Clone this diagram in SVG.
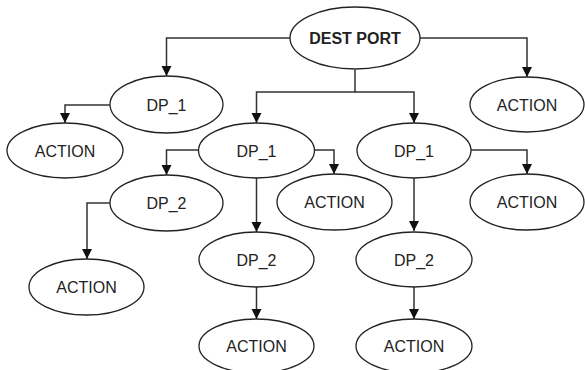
<svg xmlns="http://www.w3.org/2000/svg" width="585" height="370" viewBox="0 0 585 370">
<defs>
<style>
.n ellipse{fill:#fff;stroke:#222;stroke-width:1.3}
.n text{font-family:"Liberation Sans",Arial,sans-serif;font-size:16px;fill:#222;text-anchor:middle}
.b{font-weight:bold}
.c path{fill:none;stroke:#333;stroke-width:1.5;marker-end:url(#ah)}
</style>
<marker id="ah" markerUnits="userSpaceOnUse" markerWidth="12" markerHeight="12" refX="10" refY="5" orient="auto">
<path d="M0,0 L10,5 L0,10 Z" fill="#111"/>
</marker>
</defs>
<rect width="585" height="370" fill="#fff"/>
<g class="c" id="connectors">
<path d="M290,38 H166.5 V76"/>
<path d="M420,38 H527 V77"/>
<path d="M355,70 V92 H256.5 V123"/>
<path d="M355,92 H414 V123"/>
<path d="M110,105 H65 V123"/>
<path d="M198,150 H166.5 V175"/>
<path d="M314,150 H334 V174"/>
<path d="M256.5,178 V232"/>
<path d="M471,150 H527 V174"/>
<path d="M414,178 V231"/>
<path d="M110,203 H87 V259"/>
<path d="M256.5,287 V319"/>
<path d="M414,287 V319"/>
</g>
<g class="n" id="dest-port"><ellipse cx="355" cy="38" rx="65" ry="31"/><text class="b" x="355" y="44">DEST PORT</text></g>
<g class="n" id="dp1-left"><ellipse cx="166.5" cy="104.5" rx="56.5" ry="28.5"/><text x="166.5" y="110.5">DP_1</text></g>
<g class="n" id="action-top-right"><ellipse cx="527" cy="104.5" rx="57" ry="27.5"/><text x="527" y="110.5">ACTION</text></g>
<g class="n" id="action-left"><ellipse cx="65" cy="150.5" rx="58" ry="27.5"/><text x="65" y="156.5">ACTION</text></g>
<g class="n" id="dp1-mid"><ellipse cx="256.5" cy="150.5" rx="58" ry="27.5"/><text x="256.5" y="156.5">DP_1</text></g>
<g class="n" id="dp1-right"><ellipse cx="414" cy="150.5" rx="57" ry="27.5"/><text x="414" y="156.5">DP_1</text></g>
<g class="n" id="dp2-left"><ellipse cx="166.5" cy="203" rx="56.5" ry="28"/><text x="166.5" y="209">DP_2</text></g>
<g class="n" id="action-mid"><ellipse cx="334.5" cy="202" rx="57.5" ry="28"/><text x="334.5" y="208">ACTION</text></g>
<g class="n" id="action-right"><ellipse cx="527" cy="202" rx="57" ry="28"/><text x="527" y="208">ACTION</text></g>
<g class="n" id="dp2-mid"><ellipse cx="256.5" cy="259.5" rx="57.5" ry="27.5"/><text x="256.5" y="265.5">DP_2</text></g>
<g class="n" id="dp2-right"><ellipse cx="414" cy="259.5" rx="58" ry="27.5"/><text x="414" y="265.5">DP_2</text></g>
<g class="n" id="action-lower-left"><ellipse cx="86.5" cy="287" rx="57.5" ry="28"/><text x="86.5" y="293">ACTION</text></g>
<g class="n" id="action-bottom-mid"><ellipse cx="256.5" cy="346" rx="57.5" ry="27"/><text x="256.5" y="352">ACTION</text></g>
<g class="n" id="action-bottom-right"><ellipse cx="414" cy="346" rx="58" ry="27"/><text x="414" y="352">ACTION</text></g>
</svg>
